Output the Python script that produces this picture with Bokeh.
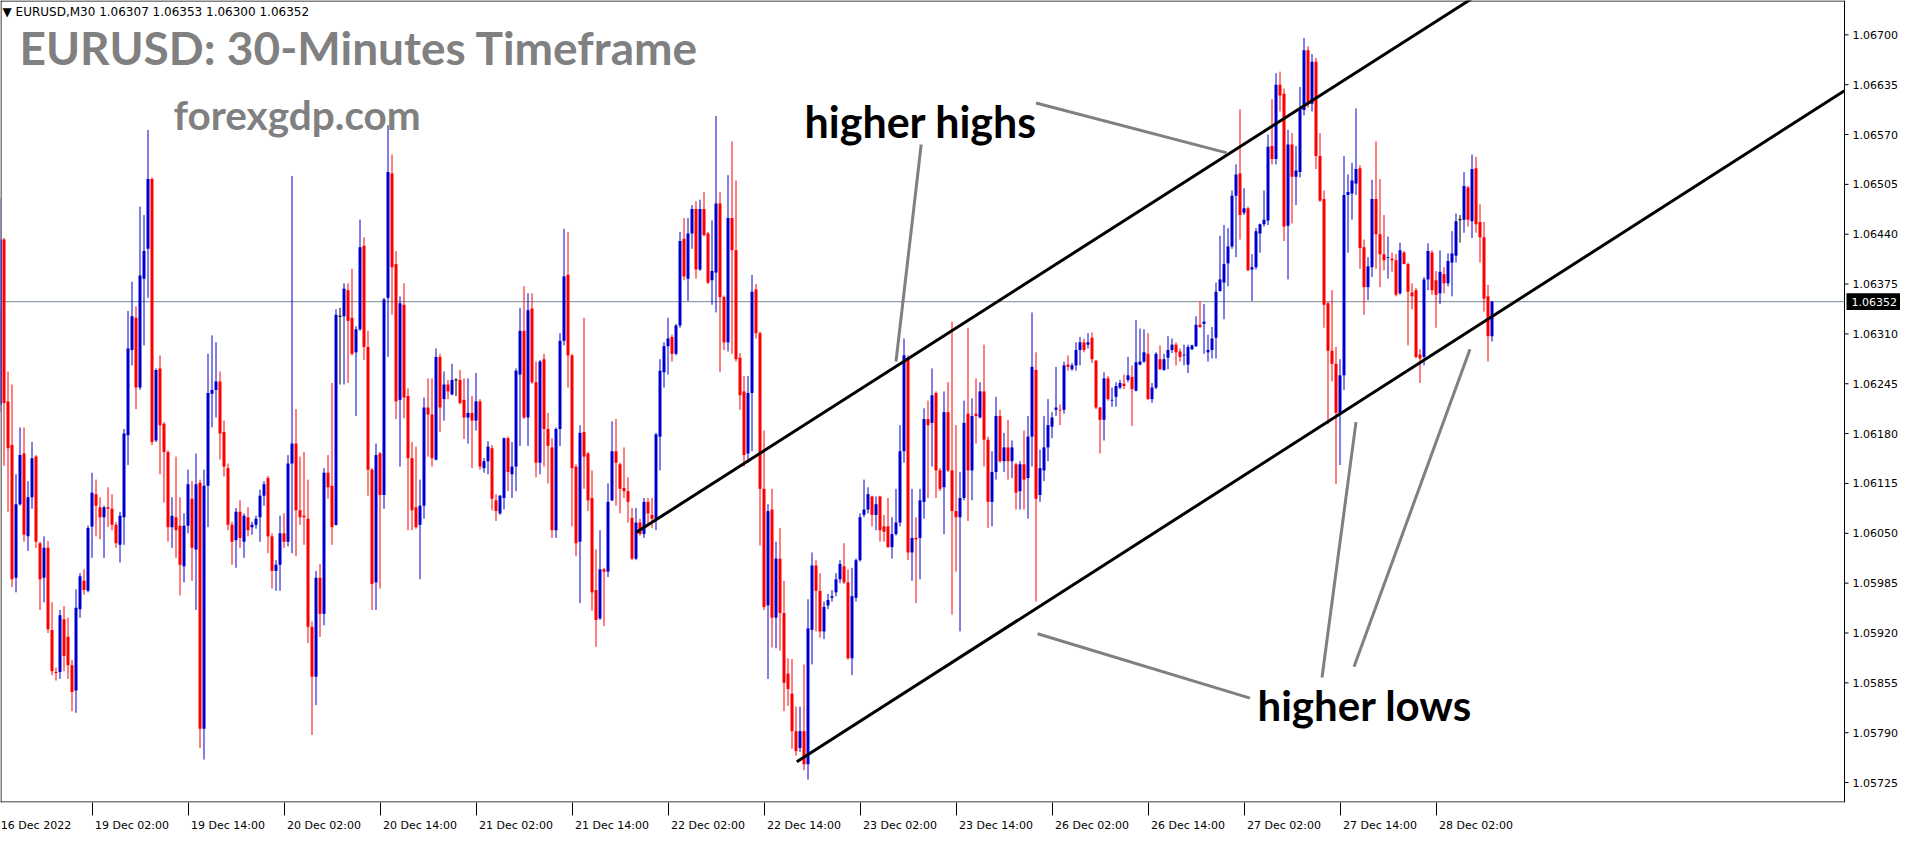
import numpy as np
from bokeh.plotting import figure
from bokeh.models import (ColumnDataSource, Range1d, LinearAxis, FixedTicker, Label)
from bokeh.core.properties import value
from bokeh.embed import file_html
from bokeh.resources import INLINE

# ---------------- data (EURUSD M30, bar index 0 = 16 Dec 2022 14:00) ----------------
date_labels = ["16 Dec 2022", "19 Dec 02:00", "19 Dec 14:00", "20 Dec 02:00", "20 Dec 14:00",
               "21 Dec 02:00", "21 Dec 14:00", "22 Dec 02:00", "22 Dec 14:00", "23 Dec 02:00",
               "23 Dec 14:00", "26 Dec 02:00", "26 Dec 14:00", "27 Dec 02:00", "27 Dec 14:00",
               "28 Dec 02:00"]
bars_per_label = 24

opens = [
    1.06342, 1.06218, 1.06433, 1.06222, 1.06165, 1.05992, 1.06088, 1.06154, 1.06046, 1.06097,
    1.06150, 1.06037, 1.05992, 1.06031, 1.05924, 1.05869, 1.05869, 1.05938, 1.05915, 1.05878,
    1.05845, 1.05951, 1.05988, 1.05975, 1.06059, 1.06101, 1.06084, 1.06071, 1.06084, 1.06082,
    1.06061, 1.06035, 1.06071, 1.06178, 1.06289, 1.06331, 1.06240, 1.06382, 1.06421, 1.06512,
    1.06171, 1.06265, 1.06193, 1.06156, 1.06058, 1.06071, 1.06060, 1.06007, 1.06060, 1.06095,
    1.06029, 1.06116, 1.05795, 1.06112, 1.06232, 1.06237, 1.06248, 1.06182, 1.06135, 1.06061,
    1.06041, 1.06078, 1.06039, 1.06071, 1.06058, 1.06061, 1.06071, 1.06099, 1.06122, 1.06046,
    1.06001, 1.06009, 1.06050, 1.06039, 1.06141, 1.06167, 1.06080, 1.06073, 1.06069, 1.05928,
    1.05863, 1.05992, 1.05945, 1.06129, 1.06112, 1.06061, 1.06333, 1.06333, 1.06367, 1.06331,
    1.06286, 1.06316, 1.06425, 1.06293, 1.06133, 1.05986, 1.06154, 1.06100, 1.06357, 1.06519,
    1.06401, 1.06224, 1.06348, 1.06229, 1.06148, 1.06084, 1.06061, 1.06086, 1.06214, 1.06205,
    1.06146, 1.06280, 1.06225, 1.06244, 1.06231, 1.06250, 1.06250, 1.06224, 1.06201, 1.06207,
    1.06197, 1.06222, 1.06135, 1.06144, 1.06161, 1.06093, 1.06076, 1.06096, 1.06174, 1.06127,
    1.06137, 1.06257, 1.06314, 1.06201, 1.06343, 1.06247, 1.06142, 1.06277, 1.06186, 1.06162,
    1.06054, 1.06186, 1.06301, 1.06387, 1.06282, 1.06137, 1.06039, 1.06182, 1.06154, 1.06096,
    1.05976, 1.05939, 1.06003, 1.06000, 1.06093, 1.06157, 1.06140, 1.06109, 1.06105, 1.06070,
    1.06017, 1.06064, 1.06049, 1.06091, 1.06074, 1.06069, 1.06176, 1.06260, 1.06294, 1.06306,
    1.06284, 1.06321, 1.06434, 1.06382, 1.06441, 1.06473, 1.06394, 1.06473, 1.06441, 1.06380,
    1.06390, 1.06480, 1.06358, 1.06299, 1.06461, 1.06419, 1.06279, 1.06235, 1.06154, 1.06233,
    1.06368, 1.06311, 1.06108, 1.05956, 1.06081, 1.05940, 1.06017, 1.05946, 1.05867, 1.05841,
    1.05792, 1.05770, 1.05792, 1.05749, 1.05924, 1.06008, 1.05975, 1.05922, 1.05956, 1.05966,
    1.05973, 1.05990, 1.06007, 1.05986, 1.05887, 1.05966, 1.06015, 1.06074, 1.06081, 1.06098,
    1.06074, 1.06098, 1.06059, 1.06059, 1.06032, 1.06049, 1.06064, 1.06157, 1.06279, 1.06025,
    1.06044, 1.06044, 1.06091, 1.06199, 1.06194, 1.06233, 1.06132, 1.06110, 1.06208, 1.06132,
    1.06079, 1.06071, 1.06096, 1.06206, 1.06132, 1.06206, 1.06201, 1.06235, 1.06172, 1.06091,
    1.06130, 1.06203, 1.06144, 1.06162, 1.06144, 1.06140, 1.06105, 1.06140, 1.06122, 1.06176,
    1.06263, 1.06100, 1.06132, 1.06162, 1.06189, 1.06211, 1.06211, 1.06211, 1.06270, 1.06264,
    1.06269, 1.06289, 1.06299, 1.06296, 1.06305, 1.06275, 1.06214, 1.06198, 1.06252, 1.06223,
    1.06228, 1.06240, 1.06245, 1.06250, 1.06254, 1.06236, 1.06270, 1.06274, 1.06284, 1.06225,
    1.06240, 1.06277, 1.06263, 1.06279, 1.06289, 1.06296, 1.06287, 1.06282, 1.06270, 1.06290,
    1.06294, 1.06322, 1.06323, 1.06286, 1.06289, 1.06305, 1.06366, 1.06377, 1.06402, 1.06424,
    1.06490, 1.06519, 1.06468, 1.06474, 1.06394, 1.06397, 1.06441, 1.06453, 1.06458, 1.06555,
    1.06538, 1.06635, 1.06623, 1.06451, 1.06557, 1.06515, 1.06521, 1.06602, 1.06680, 1.06610,
    1.06665, 1.06542, 1.06486, 1.06350, 1.06288, 1.06271, 1.06207, 1.06256, 1.06491, 1.06493,
    1.06506, 1.06526, 1.06423, 1.06371, 1.06397, 1.06486, 1.06440, 1.06414, 1.06409, 1.06408,
    1.06406, 1.06363, 1.06416, 1.06401, 1.06364, 1.06367, 1.06283, 1.06280, 1.06381, 1.06416,
    1.06380, 1.06363, 1.06388, 1.06376, 1.06403, 1.06412, 1.06459, 1.06459, 1.06501, 1.06457,
    1.06526, 1.06456, 1.06436, 1.06359, 1.06307,
]
highs = [
    1.06416, 1.06487, 1.06435, 1.06261, 1.06244, 1.06127, 1.06188, 1.06188, 1.06118, 1.06169,
    1.06152, 1.06039, 1.06046, 1.06040, 1.05960, 1.05875, 1.05950, 1.05955, 1.05940, 1.05885,
    1.05977, 1.05998, 1.06003, 1.06060, 1.06129, 1.06120, 1.06097, 1.06086, 1.06110, 1.06101,
    1.06065, 1.06078, 1.06186, 1.06340, 1.06378, 1.06346, 1.06476, 1.06465, 1.06576, 1.06514,
    1.06265, 1.06282, 1.06195, 1.06158, 1.06097, 1.06150, 1.06097, 1.06076, 1.06133, 1.06118,
    1.06154, 1.06120, 1.06133, 1.06284, 1.06308, 1.06299, 1.06261, 1.06197, 1.06141, 1.06065,
    1.06083, 1.06093, 1.06076, 1.06084, 1.06065, 1.06073, 1.06107, 1.06118, 1.06125, 1.06050,
    1.06015, 1.06073, 1.06076, 1.06152, 1.06516, 1.06212, 1.06150, 1.06156, 1.06120, 1.05935,
    1.06001, 1.06010, 1.06135, 1.06152, 1.06246, 1.06342, 1.06344, 1.06376, 1.06376, 1.06395,
    1.06320, 1.06459, 1.06436, 1.06314, 1.06135, 1.06167, 1.06156, 1.06357, 1.06582, 1.06544,
    1.06418, 1.06359, 1.06376, 1.06239, 1.06169, 1.06163, 1.06120, 1.06227, 1.06252, 1.06252,
    1.06291, 1.06284, 1.06261, 1.06250, 1.06271, 1.06252, 1.06263, 1.06252, 1.06252, 1.06229,
    1.06259, 1.06225, 1.06148, 1.06170, 1.06165, 1.06101, 1.06100, 1.06175, 1.06176, 1.06169,
    1.06265, 1.06344, 1.06372, 1.06363, 1.06363, 1.06274, 1.06276, 1.06284, 1.06207, 1.06174,
    1.06188, 1.06311, 1.06447, 1.06443, 1.06284, 1.06140, 1.06191, 1.06331, 1.06156, 1.06132,
    1.06029, 1.06054, 1.06005, 1.06115, 1.06196, 1.06199, 1.06142, 1.06162, 1.06123, 1.06083,
    1.06083, 1.06069, 1.06096, 1.06096, 1.06096, 1.06181, 1.06277, 1.06299, 1.06331, 1.06309,
    1.06323, 1.06443, 1.06461, 1.06461, 1.06478, 1.06483, 1.06485, 1.06495, 1.06443, 1.06458,
    1.06594, 1.06495, 1.06360, 1.06517, 1.06561, 1.06510, 1.06285, 1.06255, 1.06255, 1.06387,
    1.06375, 1.06313, 1.06184, 1.06088, 1.06108, 1.06039, 1.06057, 1.05988, 1.05887, 1.05886,
    1.05824, 1.05824, 1.05879, 1.05964, 1.06025, 1.06015, 1.05998, 1.05961, 1.05971, 1.05976,
    1.05998, 1.06015, 1.06037, 1.06003, 1.06005, 1.06017, 1.06076, 1.06120, 1.06110, 1.06099,
    1.06098, 1.06099, 1.06074, 1.06096, 1.06071, 1.06108, 1.06191, 1.06304, 1.06282, 1.06108,
    1.06071, 1.06108, 1.06213, 1.06223, 1.06265, 1.06235, 1.06135, 1.06235, 1.06247, 1.06326,
    1.06191, 1.06130, 1.06223, 1.06318, 1.06226, 1.06252, 1.06247, 1.06296, 1.06176, 1.06157,
    1.06228, 1.06211, 1.06181, 1.06198, 1.06171, 1.06142, 1.06144, 1.06184, 1.06203, 1.06338,
    1.06286, 1.06159, 1.06203, 1.06225, 1.06208, 1.06267, 1.06218, 1.06274, 1.06282, 1.06272,
    1.06299, 1.06306, 1.06304, 1.06311, 1.06312, 1.06276, 1.06215, 1.06260, 1.06255, 1.06240,
    1.06247, 1.06250, 1.06257, 1.06280, 1.06269, 1.06328, 1.06317, 1.06316, 1.06311, 1.06246,
    1.06286, 1.06295, 1.06284, 1.06307, 1.06304, 1.06299, 1.06291, 1.06296, 1.06296, 1.06296,
    1.06333, 1.06352, 1.06349, 1.06309, 1.06319, 1.06377, 1.06438, 1.06452, 1.06448, 1.06497,
    1.06531, 1.06603, 1.06500, 1.06476, 1.06414, 1.06448, 1.06454, 1.06497, 1.06570, 1.06616,
    1.06650, 1.06652, 1.06630, 1.06576, 1.06572, 1.06555, 1.06632, 1.06696, 1.06685, 1.06675,
    1.06670, 1.06572, 1.06497, 1.06352, 1.06367, 1.06293, 1.06277, 1.06542, 1.06518, 1.06533,
    1.06604, 1.06530, 1.06433, 1.06410, 1.06511, 1.06561, 1.06512, 1.06465, 1.06437, 1.06416,
    1.06414, 1.06429, 1.06418, 1.06403, 1.06376, 1.06370, 1.06290, 1.06384, 1.06428, 1.06419,
    1.06392, 1.06419, 1.06397, 1.06415, 1.06444, 1.06467, 1.06465, 1.06521, 1.06503, 1.06544,
    1.06541, 1.06479, 1.06456, 1.06374, 1.06353,
]
lows = [
    1.06169, 1.06208, 1.06138, 1.06078, 1.05980, 1.05973, 1.06086, 1.06039, 1.06027, 1.06082,
    1.06031, 1.05950, 1.05960, 1.05920, 1.05865, 1.05858, 1.05860, 1.05870, 1.05860, 1.05818,
    1.05816, 1.05940, 1.05970, 1.05973, 1.06018, 1.06046, 1.06042, 1.06018, 1.06058, 1.06054,
    1.06031, 1.06012, 1.06035, 1.06139, 1.06269, 1.06212, 1.06237, 1.06295, 1.06357, 1.06165,
    1.06169, 1.06127, 1.06090, 1.06039, 1.06031, 1.06018, 1.05969, 1.05986, 1.06050, 1.05988,
    1.05950, 1.05770, 1.05755, 1.06058, 1.06188, 1.06201, 1.06146, 1.06124, 1.06054, 1.06009,
    1.06005, 1.06031, 1.06018, 1.06046, 1.06048, 1.06056, 1.06039, 1.06086, 1.06024, 1.05978,
    1.05975, 1.05975, 1.06031, 1.06033, 1.06024, 1.06020, 1.06061, 1.06035, 1.05907, 1.05787,
    1.05826, 1.05915, 1.05930, 1.06095, 1.06035, 1.06060, 1.06244, 1.06244, 1.06246, 1.06282,
    1.06203, 1.06314, 1.06276, 1.06099, 1.05950, 1.05950, 1.05978, 1.06082, 1.06280, 1.06335,
    1.06199, 1.06137, 1.06200, 1.06054, 1.06054, 1.06056, 1.05990, 1.06069, 1.06150, 1.06137,
    1.06145, 1.06182, 1.06197, 1.06225, 1.06230, 1.06229, 1.06218, 1.06173, 1.06167, 1.06135,
    1.06184, 1.06133, 1.06129, 1.06127, 1.06080, 1.06066, 1.06074, 1.06081, 1.06105, 1.06096,
    1.06105, 1.06164, 1.06199, 1.06164, 1.06245, 1.06123, 1.06127, 1.06137, 1.06115, 1.06044,
    1.06044, 1.06164, 1.06295, 1.06240, 1.06059, 1.06020, 1.05959, 1.06108, 1.06079, 1.05949,
    1.05902, 1.05937, 1.05929, 1.05993, 1.06092, 1.06086, 1.06076, 1.06096, 1.06064, 1.06015,
    1.06015, 1.06047, 1.06044, 1.06059, 1.06057, 1.06054, 1.06132, 1.06240, 1.06257, 1.06274,
    1.06282, 1.06318, 1.06380, 1.06353, 1.06421, 1.06382, 1.06392, 1.06437, 1.06375, 1.06348,
    1.06338, 1.06260, 1.06289, 1.06287, 1.06284, 1.06274, 1.06211, 1.06137, 1.06142, 1.06157,
    1.06304, 1.06034, 1.05950, 1.05860, 1.05901, 1.05900, 1.05897, 1.05818, 1.05825, 1.05769,
    1.05760, 1.05765, 1.05741, 1.05729, 1.05879, 1.05922, 1.05914, 1.05912, 1.05951, 1.05961,
    1.05968, 1.05985, 1.05984, 1.05885, 1.05865, 1.05961, 1.06013, 1.06071, 1.06076, 1.06059,
    1.06054, 1.06039, 1.06039, 1.06031, 1.06017, 1.06047, 1.06059, 1.06142, 1.06015, 1.05988,
    1.05959, 1.05990, 1.06069, 1.06096, 1.06137, 1.06096, 1.06105, 1.06049, 1.06130, 1.05944,
    1.06000, 1.05922, 1.06093, 1.06066, 1.06093, 1.06167, 1.06200, 1.06137, 1.06057, 1.06059,
    1.06120, 1.06142, 1.06130, 1.06120, 1.06122, 1.06081, 1.06081, 1.06081, 1.06069, 1.06137,
    1.05961, 1.06091, 1.06118, 1.06144, 1.06174, 1.06203, 1.06191, 1.06206, 1.06262, 1.06262,
    1.06262, 1.06269, 1.06286, 1.06291, 1.06272, 1.06212, 1.06154, 1.06171, 1.06223, 1.06215,
    1.06215, 1.06238, 1.06238, 1.06247, 1.06190, 1.06235, 1.06269, 1.06272, 1.06224, 1.06220,
    1.06238, 1.06263, 1.06262, 1.06264, 1.06285, 1.06269, 1.06274, 1.06269, 1.06259, 1.06289,
    1.06293, 1.06318, 1.06284, 1.06274, 1.06278, 1.06278, 1.06365, 1.06329, 1.06372, 1.06421,
    1.06410, 1.06433, 1.06465, 1.06392, 1.06353, 1.06394, 1.06416, 1.06450, 1.06452, 1.06531,
    1.06531, 1.06600, 1.06431, 1.06381, 1.06454, 1.06478, 1.06514, 1.06595, 1.06605, 1.06600,
    1.06525, 1.06482, 1.06318, 1.06192, 1.06248, 1.06114, 1.06139, 1.06237, 1.06416, 1.06459,
    1.06491, 1.06395, 1.06335, 1.06354, 1.06384, 1.06395, 1.06371, 1.06393, 1.06382, 1.06391,
    1.06359, 1.06361, 1.06401, 1.06295, 1.06342, 1.06278, 1.06246, 1.06269, 1.06367, 1.06361,
    1.06318, 1.06349, 1.06363, 1.06372, 1.06359, 1.06403, 1.06429, 1.06442, 1.06450, 1.06435,
    1.06442, 1.06403, 1.06339, 1.06274, 1.06300,
]
closes = [
    1.06218, 1.06433, 1.06220, 1.06161, 1.05990, 1.06088, 1.06152, 1.06048, 1.06097, 1.06148,
    1.06039, 1.05990, 1.06031, 1.05925, 1.05870, 1.05868, 1.05943, 1.05890, 1.05878, 1.05843,
    1.05953, 1.05994, 1.05976, 1.06057, 1.06103, 1.06086, 1.06071, 1.06084, 1.06082, 1.06061,
    1.06037, 1.06073, 1.06180, 1.06291, 1.06333, 1.06240, 1.06386, 1.06418, 1.06512, 1.06169,
    1.06263, 1.06191, 1.06156, 1.06058, 1.06073, 1.06054, 1.06009, 1.06060, 1.06114, 1.06031,
    1.06114, 1.05795, 1.06112, 1.06233, 1.06237, 1.06248, 1.06180, 1.06137, 1.06061, 1.06039,
    1.06078, 1.06044, 1.06073, 1.06054, 1.06061, 1.06069, 1.06099, 1.06114, 1.06046, 1.06001,
    1.06009, 1.06050, 1.06039, 1.06141, 1.06167, 1.06080, 1.06071, 1.06071, 1.05928, 1.05863,
    1.05992, 1.05945, 1.06129, 1.06110, 1.06058, 1.06335, 1.06333, 1.06369, 1.06327, 1.06284,
    1.06316, 1.06423, 1.06293, 1.06133, 1.05984, 1.06152, 1.06100, 1.06355, 1.06521, 1.06397,
    1.06222, 1.06350, 1.06227, 1.06148, 1.06080, 1.06058, 1.06086, 1.06214, 1.06205, 1.06148,
    1.06280, 1.06214, 1.06244, 1.06235, 1.06250, 1.06250, 1.06220, 1.06201, 1.06207, 1.06197,
    1.06222, 1.06137, 1.06144, 1.06163, 1.06095, 1.06079, 1.06099, 1.06174, 1.06130, 1.06137,
    1.06262, 1.06314, 1.06201, 1.06341, 1.06247, 1.06142, 1.06274, 1.06186, 1.06164, 1.06054,
    1.06186, 1.06301, 1.06385, 1.06282, 1.06135, 1.06037, 1.06181, 1.06150, 1.06093, 1.05973,
    1.05937, 1.06003, 1.06000, 1.06091, 1.06157, 1.06142, 1.06108, 1.06105, 1.06091, 1.06017,
    1.06064, 1.06049, 1.06091, 1.06076, 1.06069, 1.06179, 1.06262, 1.06294, 1.06304, 1.06284,
    1.06321, 1.06431, 1.06385, 1.06441, 1.06473, 1.06394, 1.06473, 1.06439, 1.06377, 1.06392,
    1.06480, 1.06358, 1.06299, 1.06461, 1.06419, 1.06277, 1.06230, 1.06152, 1.06233, 1.06365,
    1.06311, 1.06108, 1.05954, 1.06079, 1.05940, 1.06017, 1.05946, 1.05855, 1.05847, 1.05792,
    1.05766, 1.05792, 1.05749, 1.05926, 1.06008, 1.05975, 1.05922, 1.05954, 1.05963, 1.05968,
    1.05990, 1.06010, 1.05986, 1.05887, 1.05968, 1.06015, 1.06071, 1.06081, 1.06101, 1.06074,
    1.06088, 1.06054, 1.06052, 1.06032, 1.06049, 1.06064, 1.06157, 1.06282, 1.06025, 1.06044,
    1.06042, 1.06093, 1.06199, 1.06191, 1.06230, 1.06132, 1.06108, 1.06208, 1.06132, 1.06079,
    1.06071, 1.06096, 1.06194, 1.06132, 1.06203, 1.06203, 1.06235, 1.06172, 1.06091, 1.06130,
    1.06203, 1.06144, 1.06162, 1.06144, 1.06162, 1.06103, 1.06140, 1.06120, 1.06176, 1.06267,
    1.06095, 1.06135, 1.06162, 1.06191, 1.06201, 1.06214, 1.06210, 1.06269, 1.06267, 1.06269,
    1.06289, 1.06299, 1.06289, 1.06299, 1.06277, 1.06214, 1.06198, 1.06252, 1.06225, 1.06224,
    1.06242, 1.06246, 1.06242, 1.06256, 1.06238, 1.06273, 1.06274, 1.06286, 1.06225, 1.06240,
    1.06284, 1.06264, 1.06277, 1.06289, 1.06296, 1.06286, 1.06280, 1.06283, 1.06293, 1.06295,
    1.06322, 1.06319, 1.06326, 1.06289, 1.06304, 1.06365, 1.06381, 1.06401, 1.06424, 1.06490,
    1.06518, 1.06465, 1.06474, 1.06393, 1.06397, 1.06444, 1.06453, 1.06459, 1.06554, 1.06538,
    1.06635, 1.06621, 1.06450, 1.06557, 1.06515, 1.06523, 1.06604, 1.06680, 1.06610, 1.06665,
    1.06542, 1.06484, 1.06348, 1.06288, 1.06271, 1.06207, 1.06256, 1.06491, 1.06495, 1.06510,
    1.06525, 1.06422, 1.06371, 1.06398, 1.06486, 1.06440, 1.06414, 1.06406, 1.06410, 1.06406,
    1.06361, 1.06419, 1.06401, 1.06365, 1.06359, 1.06280, 1.06278, 1.06381, 1.06418, 1.06367,
    1.06361, 1.06391, 1.06376, 1.06405, 1.06415, 1.06457, 1.06459, 1.06503, 1.06459, 1.06525,
    1.06453, 1.06436, 1.06356, 1.06307, 1.06352,
]

bid_price = 1.06352
header_text = "\u25BC EURUSD,M30  1.06307 1.06353 1.06300 1.06352"
price_ticks = [1.05725, 1.05790, 1.05855, 1.05920, 1.05985, 1.06050, 1.06115, 1.06180,
               1.06245, 1.06310, 1.06375, 1.06440, 1.06505, 1.06570, 1.06635, 1.06700]

# channel lines (bar index, price)
upper_channel_x = [160.0, 380.0]
upper_channel_y = [1.06051, 1.06784]
lower_channel_x = [200.2, 462.1]
lower_channel_y = [1.05752, 1.06627]
# grey pointer lines
pointers = [
    ([260.0, 307.7], [1.06611, 1.06546]),
    ([231.3, 225.0], [1.06557, 1.06274]),
    ([260.4, 313.5], [1.05919, 1.05835]),
    ([331.5, 340.0], [1.05862, 1.06195]),
    ([339.5, 368.5], [1.05876, 1.06290]),
]

# ---------------- layout helpers: reference pixel -> data ----------------
def X(px):
    return (px - 3.5) / 4.0

def Y(py):
    return 1.067 - (py - 43.0) / 78220.0

AXIS_PX = 1852          # price scale line position (page px)
BULL = "#0000cd"
BEAR = "#ff0000"
DOJI = "#000000"
FONT = value("DejaVu Sans")

o = np.array(opens); h = np.array(highs); l = np.array(lows); c = np.array(closes)
n = min(len(o), len(h), len(l), len(c))
o, h, l, c = o[:n], h[:n], l[:n], c[:n]
xs = np.arange(n)
up = c > o
dn = c < o
flat = ~(up | dn)
colors = np.where(up, BULL, np.where(dn, BEAR, DOJI))
src = ColumnDataSource(dict(
    x=xs, top=np.maximum(o, c), bot=np.minimum(o, c),
    hi=np.maximum(h, np.maximum(o, c)), lo=np.minimum(l, np.minimum(o, c)),
    color=colors))

x0, x1 = X(8), X(1908)
y0, y1 = Y(826), Y(8)
p = figure(width=1900, height=834,
           x_range=Range1d(x0, x1), y_range=Range1d(y0, y1),
           output_backend="svg", toolbar_location=None,
           x_axis_location=None, y_axis_location=None,
           min_border_left=0, min_border_top=0, min_border_right=0, min_border_bottom=16)
p.background_fill_color = "white"
p.border_fill_color = "white"
p.outline_line_color = None
p.xgrid.visible = False
p.ygrid.visible = False

ax = X(AXIS_PX)
# chart border (left, top) and price-scale line
p.segment(x0=[X(8.5), X(8)], y0=[y0, Y(8.5)], x1=[X(8.5), ax], y1=[y1, Y(8.5)],
          line_color="black", line_width=1)
p.segment(x0=[ax], y0=[y0], x1=[ax], y1=[y1], line_color="black", line_width=1)
p.segment(x0=[x0], y0=[Y(825.5)], x1=[ax], y1=[Y(825.5)], line_color="black", line_width=1)

# bid line
p.segment(x0=[x0], y0=[bid_price], x1=[ax], y1=[bid_price], line_color="#778899", line_width=1)

# candles
p.segment(x0="x", y0="lo", x1="x", y1="hi", line_color="color", line_width=1, source=src)
p.vbar(x="x", width=0.75, top="top", bottom="bot", fill_color="color", line_color=None, source=src)
if flat.any():
    p.segment(x0=xs[flat] - 0.375, y0=o[flat], x1=xs[flat] + 0.375, y1=o[flat],
              line_color=DOJI, line_width=1)

# channel lines
p.line(upper_channel_x, upper_channel_y, line_color="black", line_width=3)
p.line(lower_channel_x, lower_channel_y, line_color="black", line_width=3)
for px_, py_ in pointers:
    p.line(px_, py_, line_color="#808080", line_width=3)

# price scale (right): tick marks + labels
p.segment(x0=[ax] * len(price_ticks), y0=price_ticks, x1=[X(AXIS_PX + 4)] * len(price_ticks),
          y1=price_ticks, line_color="black", line_width=1)
p.text(x=[X(AXIS_PX + 8)] * len(price_ticks), y=price_ticks,
       text=["%.5f" % t for t in price_ticks], text_font=FONT, text_font_size="11px",
       text_color="black", text_baseline="middle", text_align="left")
# bid price tag
tag_h = 8.5 / 78220.0
p.quad(left=[X(AXIS_PX + 2)], right=[X(1910)], bottom=[bid_price - tag_h], top=[bid_price + tag_h],
       fill_color="black", line_color=None)
p.text(x=[X(AXIS_PX + 7)], y=[bid_price], text=["%.5f" % bid_price], text_font=FONT,
       text_font_size="11px", text_color="white", text_baseline="middle", text_align="left")

# time axis (bottom)
xt = FixedTicker(ticks=[bars_per_label * k + 10 for k in range(len(date_labels))],
                 minor_ticks=[bars_per_label * k for k in range(len(date_labels))])
xaxis = LinearAxis(ticker=xt,
                   major_label_overrides={bars_per_label * k + 10: lab for k, lab in enumerate(date_labels)})
xaxis.axis_line_color = None
xaxis.major_tick_line_color = None
xaxis.major_tick_out = 0
xaxis.major_tick_in = 0
xaxis.minor_tick_line_color = "black"
xaxis.minor_tick_out = 13
xaxis.minor_tick_in = 0
xaxis.major_label_standoff = 3
xaxis.major_label_text_font = "DejaVu Sans"
xaxis.major_label_text_font_size = "11px"
xaxis.major_label_text_color = "black"
p.add_layout(xaxis, "below")

# texts
p.add_layout(Label(x=X(10), y=Y(20), text=header_text, text_font="DejaVu Sans",
                   text_font_size="12px", text_color="black", text_baseline="alphabetic"))
p.add_layout(Label(x=X(27), y=Y(56), text="EURUSD: 30-Minutes Timeframe", text_font="Lato",
                   text_font_style="bold", text_font_size="46px", text_color="#808080",
                   text_baseline="alphabetic"))
p.add_layout(Label(x=X(181), y=Y(124), text="forexgdp.com", text_font="Lato",
                   text_font_style="bold", text_font_size="40.5px", text_color="#808080",
                   text_baseline="alphabetic"))
p.add_layout(Label(x=X(812), y=Y(131), text="higher highs", text_font="Lato",
                   text_font_style="bold", text_font_size="43px", text_color="black",
                   text_baseline="alphabetic"))
p.add_layout(Label(x=X(1265), y=Y(727), text="higher lows", text_font="Lato",
                   text_font_style="bold", text_font_size="42px", text_color="black",
                   text_baseline="alphabetic"))

open("out.html", "w").write(file_html(p, INLINE))
